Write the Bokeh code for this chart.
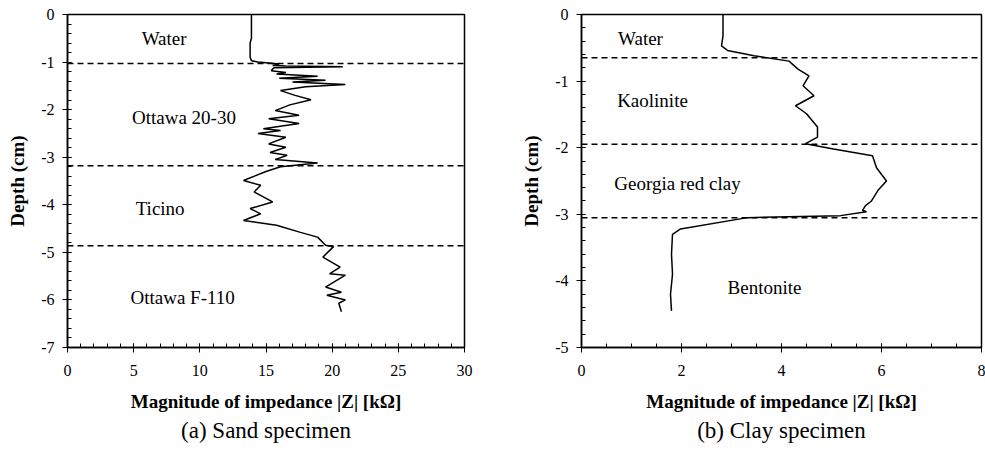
from bokeh.plotting import figure
from bokeh.layouts import row
from bokeh.models import Range1d, Span, Label, Title, SingleIntervalTicker, PrintfTickFormatter
from bokeh.embed import file_html
from bokeh.resources import INLINE

# ---- data: (a) sand specimen ----
sand_z = [13.9, 13.9, 13.8, 13.8, 13.9, 14.4, 16.0, 15.5, 16.5, 20.8, 15.6, 15.4, 16.5, 15.8,
          18.9, 16.0, 19.5, 17.0, 21.0, 18.0, 16.1, 17.2, 18.4, 16.8, 15.7, 17.5, 15.2, 17.5,
          14.8, 16.1, 14.4, 16.5, 15.2, 16.5, 15.3, 16.6, 15.7, 18.9, 16.1, 15.0, 13.3, 14.6,
          14.1, 15.5, 13.8, 14.6, 13.3, 15.8, 17.6, 18.9, 19.5, 20.1, 19.3, 20.6, 19.8, 21.0,
          19.5, 20.7, 19.6, 21.0, 20.5, 20.7]
sand_depth = [0.0, -0.5, -0.6, -0.9, -0.97, -1.0, -1.04, -1.07, -1.08, -1.1, -1.12, -1.18, -1.22,
              -1.25, -1.3, -1.34, -1.38, -1.42, -1.47, -1.52, -1.6, -1.7, -1.79, -1.9, -2.02,
              -2.12, -2.19, -2.29, -2.4, -2.44, -2.5, -2.58, -2.72, -2.79, -2.9, -2.96, -3.05,
              -3.12, -3.2, -3.3, -3.49, -3.59, -3.73, -3.94, -4.08, -4.19, -4.33, -4.43, -4.58,
              -4.68, -4.85, -4.88, -5.1, -5.31, -5.45, -5.48, -5.73, -5.84, -5.9, -6.0, -6.07,
              -6.25]
sand_bounds = [-1.03, -3.18, -4.86]
sand_layers = ["Water", "Ottawa 20-30", "Ticino", "Ottawa F-110"]
sand_label_x = [7.3, 8.8, 7.0, 8.7]
sand_label_y = [-0.5, -2.16, -4.08, -5.95]

# ---- data: (b) clay specimen ----
clay_z = [2.83, 2.83, 2.8, 2.92, 3.45, 4.15, 4.33, 4.55, 4.43, 4.65, 4.28, 4.5, 4.72, 4.72,
          4.48, 5.04, 5.82, 5.9, 6.1, 5.93, 5.8, 5.68, 5.62, 5.7, 5.18, 3.32, 1.98, 1.82, 1.8,
          1.82, 1.78, 1.8]
clay_depth = [0.0, -0.32, -0.47, -0.54, -0.62, -0.7, -0.82, -0.92, -1.07, -1.22, -1.37, -1.49,
              -1.69, -1.84, -1.94, -2.02, -2.12, -2.3, -2.5, -2.64, -2.8, -2.87, -2.94, -2.96,
              -3.02, -3.05, -3.22, -3.3, -3.6, -3.9, -4.2, -4.45]
clay_bounds = [-0.65, -1.95, -3.05]
clay_layers = ["Water", "Kaolinite", "Georgia red clay", "Bentonite"]
clay_label_x = [1.18, 1.42, 1.92, 3.66]
clay_label_y = [-0.36, -1.29, -2.54, -4.1]

SERIF = "Liberation Serif"
XLABEL = "Magnitude of impedance |Z| [kΩ]"


def make_panel(z, d, bounds, layers, lx, ly, xmax, ymin, xstep, xminor, caption,
               width, left, right):
    p = figure(width=width, height=457, output_backend="svg", toolbar_location=None,
               x_range=Range1d(0, xmax), y_range=Range1d(ymin, 0),
               min_border_left=left, min_border_right=right, min_border_top=14,
               min_border_bottom=110)
    p.grid.visible = False
    p.background_fill_color = "white"
    p.outline_line_color = "black"
    p.outline_line_width = 1.5
    p.xaxis.ticker = SingleIntervalTicker(interval=xstep, num_minor_ticks=xminor)
    p.yaxis.ticker = SingleIntervalTicker(interval=1, num_minor_ticks=5)
    p.xaxis.formatter = PrintfTickFormatter(format="%d")
    p.yaxis.formatter = PrintfTickFormatter(format="%d")
    for ax in (p.xaxis[0], p.yaxis[0]):
        ax.axis_line_color = "black"
        ax.axis_line_width = 1.5
        ax.major_tick_in = 4
        ax.major_tick_out = 5
        ax.minor_tick_in = 4
        ax.minor_tick_out = 0
        ax.major_label_text_font = SERIF
        ax.major_label_text_font_size = "16px"
        ax.major_label_text_color = "black"
        ax.axis_label_text_font = SERIF
        ax.axis_label_text_font_style = "bold"
        ax.axis_label_text_font_size = "19px"
        ax.axis_label_text_color = "black"
    p.xaxis.axis_label = XLABEL
    p.yaxis.axis_label = "Depth (cm)"
    p.xaxis.major_label_standoff = 12
    p.xaxis.axis_label_standoff = 12
    p.yaxis.major_label_standoff = 8
    p.yaxis.axis_label_standoff = 10
    for b in bounds:
        p.add_layout(Span(location=b, dimension="width", line_color="black",
                          line_width=1.5, line_dash="6 4"))
    p.line(z, d, line_color="black", line_width=1.5)
    for t, x, y in zip(layers, lx, ly):
        p.add_layout(Label(x=x, y=y, text=t, text_font=SERIF, text_font_size="19px",
                           text_align="center", text_baseline="middle", text_color="black"))
    p.add_layout(Title(text=caption, align="center", text_font=SERIF,
                       text_font_size="23px", text_font_style="normal",
                       text_color="black", standoff=2), "below")
    return p


p1 = make_panel(sand_z, sand_depth, sand_bounds, sand_layers, sand_label_x, sand_label_y,
                30, -7, 5, 5, "(a) Sand specimen", 490, 67, 26)
p2 = make_panel(clay_z, clay_depth, clay_bounds, clay_layers, clay_label_x, clay_label_y,
                8, -5, 2, 4, "(b) Clay specimen", 495, 91, 4)

layout = row(p1, p2)
open("out.html", "w").write(file_html(layout, INLINE))
